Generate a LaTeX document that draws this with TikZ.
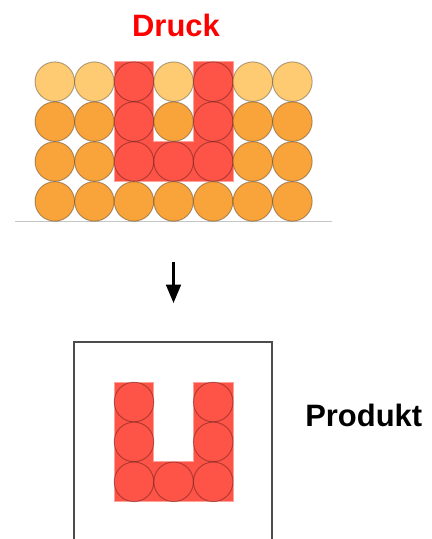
\documentclass[tikz,border=0pt]{standalone}
\usepackage{fontspec}
\setmainfont{Liberation Sans}
\usepackage{tikz}
\usetikzlibrary{arrows.meta,positioning}

\definecolor{pulverhell}{HTML}{FECB73}
\definecolor{pulver}{HTML}{F9A33B}
\definecolor{druckrot}{HTML}{FE5347}

\tikzset{
  kugel/.style={circle,inner sep=0pt,minimum size=0.99cm,draw=black,draw opacity=0.3,line width=0.7pt},
  hell/.style={kugel,fill=pulverhell},
  voll/.style={kugel,fill=pulver},
  rot/.style={kugel,fill=druckrot},
  form/.style={fill=druckrot,draw=druckrot!55,line width=0.6pt},
  titel/.style={font=\fontsize{22}{26}\selectfont\bfseries,inner sep=0pt},
}

\begin{document}
\begin{tikzpicture}[x=0.025cm,y=-0.025cm]
  \useasboundingbox (0,0) rectangle (432,539);
  % Druckbett
  \node[titel,text=red,anchor=base] (druck) at (176,36) {Druck};
  \draw[gray!45,line width=0.8pt] (15,221.3) -- (332,221.3);
  \fill[form] (114.2,61.7) -- (153.8,61.7) -- (153.8,141.6) -- (193.4,141.6) -- (193.4,61.7)
    -- (233,61.7) -- (233,181.4) -- (114.2,181.4) -- cycle;
  \node[hell] (A1) at (54.8,81.7) {};
  \node[hell] (A2) at (94.4,81.7) {};
  \node[rot]  (A3) at (134,81.7) {};
  \node[hell] (A4) at (173.6,81.7) {};
  \node[rot]  (A5) at (213.2,81.7) {};
  \node[hell] (A6) at (252.8,81.7) {};
  \node[hell] (A7) at (292.4,81.7) {};
  \node[voll] (B1) at (54.8,121.6) {};
  \node[voll] (B2) at (94.4,121.6) {};
  \node[rot]  (B3) at (134,121.6) {};
  \node[voll] (B4) at (173.6,121.6) {};
  \node[rot]  (B5) at (213.2,121.6) {};
  \node[voll] (B6) at (252.8,121.6) {};
  \node[voll] (B7) at (292.4,121.6) {};
  \node[voll] (C1) at (54.8,161.5) {};
  \node[voll] (C2) at (94.4,161.5) {};
  \node[rot]  (C3) at (134,161.5) {};
  \node[rot]  (C4) at (173.6,161.5) {};
  \node[rot]  (C5) at (213.2,161.5) {};
  \node[voll] (C6) at (252.8,161.5) {};
  \node[voll] (C7) at (292.4,161.5) {};
  \node[voll] (D1) at (54.8,201.4) {};
  \node[voll] (D2) at (94.4,201.4) {};
  \node[voll] (D3) at (134,201.4) {};
  \node[voll] (D4) at (173.6,201.4) {};
  \node[voll] (D5) at (213.2,201.4) {};
  \node[voll] (D6) at (252.8,201.4) {};
  \node[voll] (D7) at (292.4,201.4) {};
  % Pfeil
  \coordinate (pfeilA) at (173.5,262);
  \coordinate (pfeilB) at (173.5,303);
  \draw[line width=1.6pt,-{Triangle[width=10.5pt,length=13pt]}] (pfeilA) -- (pfeilB);
  % Produkt
  \draw[black!70,line width=1.3pt] (74,342) rectangle (272,620);
  \fill[form] (114.2,382) -- (153.8,382) -- (153.8,461.9) -- (193.4,461.9) -- (193.4,382)
    -- (233,382) -- (233,501.7) -- (114.2,501.7) -- cycle;
  \node[rot] (P1) at (134,402) {};
  \node[rot] (P2) at (213.2,402) {};
  \node[rot] (P3) at (134,441.9) {};
  \node[rot] (P4) at (213.2,441.9) {};
  \node[rot] (P5) at (134,481.8) {};
  \node[rot] (P6) at (173.6,481.8) {};
  \node[rot] (P7) at (213.2,481.8) {};
  \node[titel,anchor=base west] (produkt) at (305,426.5) {Produkt};
\end{tikzpicture}
\end{document}
